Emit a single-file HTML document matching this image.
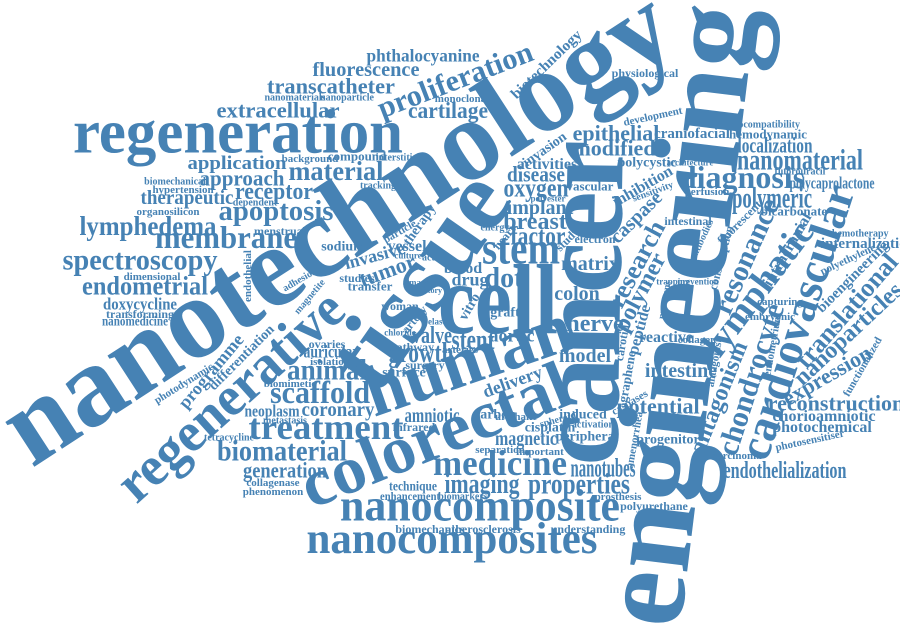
<!DOCTYPE html>
<html>
<head>
<meta charset="utf-8">
<style>
  html,body{margin:0;padding:0;background:#fff;}
  #cloud{display:block;width:900px;height:631px;}
  #cloud text{font-family:"Liberation Serif","DejaVu Serif",serif;font-weight:bold;fill:#4682b4;}
</style>
</head>
<body>
<svg id="cloud" width="900" height="631" viewBox="0 0 900 631" xmlns="http://www.w3.org/2000/svg"></svg>
<script>
// word, x, y (visual centre), font size, rotation, optional target length
const words = [
["nanotechnology",341,233,116,-33,775],
["engineering",687,316,125,-83,625],
["cancer",590,303,120,-89,325],
["regeneration",238,137,62,0,330],
["tissue",425,285,100,-55,240],
["cell",498,308,100,0,120],
["human",470,365,72,-19,215],
["colorectal",437,440,68,-22,285],
["regenerative",233,399,56,-42,285],
["nanocomposite",480,509,46,0,280],
["nanocomposites",452,542,44,0,291],
["cardiovascular",800,323,46,-72,286],
["medicine",500,466,36,0,134],
["properties",579,486,30,0,102],
["imaging",482,486,28,0,75],
["stem",521,252,46,0,78],
["treatment",326,430,36,0,155],
["scaffold",320,395,32,0,100],
["biomaterial",282,453,30,0,130],
["animal",327,372,30,0,80],
["membrane",226,240,32,0,142],
["spectroscopy",140,262,30,0,155],
["lymphedema",148,228,27,0,137],
["endometrial",145,288,26,0,126],
["apoptosis",276,213,28,0,115],
["material",336,173,27,0,95],
["receptor",274,193,24,0,78],
["therapeutic",187,199,20,0,93],
["approach",242,180,22,0,85],
["application",237,164,19,0,99],
["extracellular",278,112,22,0,123],
["transcatheter",331,88,22,0,128],
["fluorescence",366,71,20,0,107],
["phthalocyanine",423,57,18,0,113],
["proliferation",456,82,30,-21,164],
["cartilage",448,112,23,0,80],
["biotechnology",547,65,15,-44,92],
["physiological",645,74,12,0,0],
["monoclonal",462,99,11,0,0],
["nanomaterials",295,98,10,0,0],
["nanoparticle",347,98,10,0,0],
["doxycycline",140,305,17,0,74],
["transforming",140,315,12,0,0],
["nanomedicine",135,322,14,0,66],
["dimensional",152,277,11,0,0],
["hypertension",183,190,11,0,0],
["biomechanical",175,182,10,0,0],
["organosilicon",168,212,11,0,0],
["background",310,159,11,0,0],
["compound",357,157,13,0,0],
["interstitial",398,158,10,0,0],
["tracking",378,186,10,0,0],
["dependent",255,203,10,0,0],
["menstrual",280,232,12,0,0],
["sodium",343,247,14,0,0],
["vessel",407,247,16,0,0],
["invasive",375,257,18,-15,0],
["tumor",388,272,22,-20,0],
["studies",357,279,12,0,0],
["transfer",370,287,13,0,0],
["endothelial",248,276,11,-90,0],
["adhesion",300,280,10,-30,0],
["magnetite",310,297,10,-50,0],
["programme",212,372,18,-50,0],
["differentiation",242,358,14,-45,0],
["photodynamic",184,384,11,-32,0],
["biomimetic",290,384,11,0,0],
["auricular",331,353,18,0,55],
["neoplasm",272,412,17,0,55],
["coronary",338,411,20,0,73],
["metastasis",285,421,10,0,0],
["tetracycline",229,438,10,0,0],
["generation",285,472,22,0,84],
["collagenase",273,483,11,0,0],
["phenomenon",273,492,11,0,0],
["valve",432,337,24,0,40],
["growth",421,355,28,0,65],
["surgery",425,366,12,0,0],
["surface",404,373,14,0,0],
["stent",473,342,28,0,43],
["aortic",512,337,18,0,0],
["amniotic",432,417,20,0,55],
["infrared",414,428,12,0,0],
["technique",413,487,14,0,48],
["enhancement",410,497,12,0,60],
["biomarkers",463,497,10,0,0],
["magnetic",526,440,20,0,62],
["cisplatin",550,428,14,0,0],
["induced",583,415,14,0,0],
["peripheral",587,437,14,0,0],
["important",540,452,11,0,0],
["separation",500,450,11,0,0],
["delivery",513,383,18,-20,0],
["graft",505,313,14,0,0],
["colon",577,295,20,0,0],
["matrix",590,265,20,0,0],
["nerve",595,325,24,0,0],
["model",585,357,20,0,0],
["electron",595,240,12,0,0],
["vascular",590,187,13,0,0],
["reactive",666,338,16,0,0],
["collagen",697,340,11,0,0],
["nanotubes",603,470,26,0,65],
["prosthesis",618,497,11,0,0],
["polyurethane",654,507,12,0,0],
["understanding",588,530,12,0,0],
["biomechanics",430,530,12,0,0],
["atherosclerosis",483,530,12,0,0],
["factor",538,238,26,0,55],
["breast",535,223,24,0,0],
["implant",540,209,20,0,0],
["oxygen",536,190,26,0,65],
["disease",536,176,22,0,58],
["activities",547,165,16,0,0],
["invasion",545,150,14,-35,0],
["epithelial",616,135,22,0,0],
["modified",614,150,22,0,0],
["polycystic",647,163,14,0,0],
["craniofacial",692,134,15,0,0],
["development",653,117,11,-12,0],
["biocompatibility",765,125,10,0,0],
["hemodynamic",768,135,13,0,0],
["localization",775,147,22,0,75],
["nanomaterial",800,162,30,0,126],
["fluorouracil",800,172,10,0,0],
["diagnosis",742,180,32,0,0],
["polycaprolactone",832,184,17,0,85],
["polymeric",772,200,30,0,80],
["bicarbonate",794,212,13,0,0],
["architecture",690,163,9,0,0],
["inhibition",643,187,16,-30,0],
["sensitivity",653,192,10,-20,0],
["caspase",637,218,20,-45,0],
["research",638,265,26,-62,0],
["polymer",641,293,24,-62,0],
["peptide",640,330,16,-75,0],
["carotid",623,343,12,-80,0],
["graphene",628,377,13,-80,0],
["intestine",681,372,20,0,0],
["potential",658,408,22,0,0],
["progenitor",668,440,14,0,0],
["amenorrhea",635,440,11,-80,0],
["antagonist",715,363,11,-80,0],
["intestinal",688,222,12,0,0],
["perfusion",707,192,11,0,0],
["fluorescent",740,223,12,-45,0],
["consumption",722,258,12,-75,0],
["antagonism",720,398,24,-68,0],
["chondrocyte",753,380,30,-72,0],
["lymphatic",760,290,37,-53,0],
["resonance",748,257,29,-66,0],
["intracranial",788,250,16,-60,0],
["translational",848,312,26,-49,0],
["nanoparticles",849,335,24,-43,0],
["bioengineering",853,277,15,-45,0],
["polyethylene",848,260,11,-25,0],
["internalization",868,244,15,0,0],
["chemotherapy",858,234,10,0,0],
["expression",828,377,22,-30,0],
["reconstruction",836,405,22,0,0],
["chorioamniotic",824,417,16,0,0],
["photochemical",822,428,16,0,0],
["photosensitiser",810,441,11,-12,0],
["endothelialization",785,472,24,0,123],
["carcinoma",737,456,11,0,0],
["functionalized",863,367,11,-60,0],
["embryonic",770,317,11,0,0],
["capturing",780,302,11,0,0],
["endometrium",773,345,11,-80,0],
["therapy",420,225,14,-55,0],
["particle",400,232,11,-30,0],
["culture",408,256,9,0,0],
["action",435,258,10,0,0],
["image",418,283,9,0,0],
["history",430,291,8,0,0],
["elastic",440,322,9,0,0],
["chloride",400,333,9,0,0],
["pathway",412,348,12,0,0],
["arteries",460,350,11,0,0],
["energy",495,228,10,0,0],
["heart",505,238,12,-50,0],
["study",568,240,12,-45,0],
["polyester",548,199,9,0,0],
["ovaries",327,345,12,0,0],
["isolation",330,362,11,0,0],
["carbon",495,415,14,0,0],
["urethane",516,417,11,0,0],
["spheroid",558,420,10,-15,0],
["activation",593,425,10,0,0],
["caspases",630,403,11,-30,0],
["trapping",673,282,9,0,0],
["prevention",698,282,9,0,0],
["pyrogens",665,300,10,-80,0],
["antibodies",702,240,10,-65,0],
["woman",400,307,12,0,0],
["vitro",470,307,14,-60,0],
["artery",415,320,12,-50,0],
["drug",470,281,18,0,0],
["blood",463,269,16,0,0],
["dot",504,280,28,0,0]
];

const svg = document.getElementById('cloud');
const NS = 'http://www.w3.org/2000/svg';
for (const w of words) {
  const el = document.createElementNS(NS, 'text');
  
  
  el.setAttribute('x', w[1]);
  el.setAttribute('y', w[2]);
  el.setAttribute('dy', '0.25em');
  el.setAttribute('text-anchor', 'middle');
  el.setAttribute('font-size', w[3]);
  if (w[4]) el.setAttribute('transform', 'rotate(' + w[4] + ' ' + w[1] + ' ' + w[2] + ')');
  if (w[5]) {
    el.setAttribute('textLength', w[5]);
    el.setAttribute('lengthAdjust', 'spacingAndGlyphs');
  }
  el.textContent = w[0];
  svg.appendChild(el);
}
</script>
</body>
</html>
